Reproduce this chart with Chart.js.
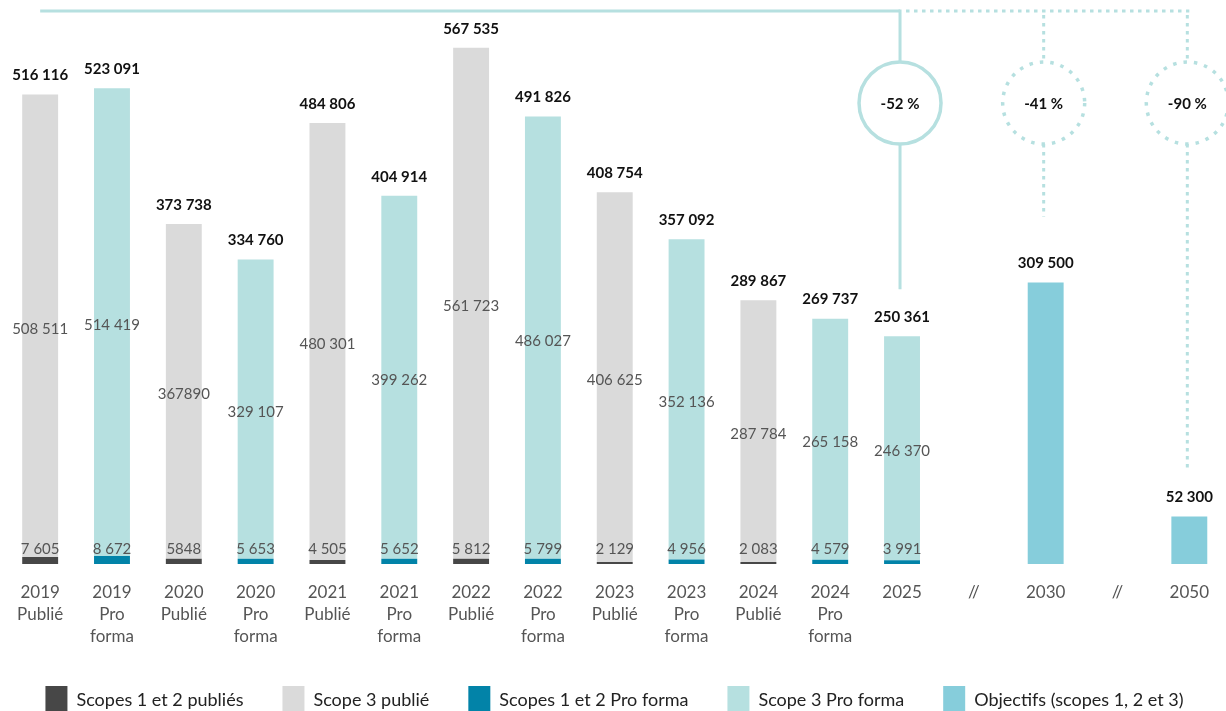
<!DOCTYPE html>
<html><head><meta charset="utf-8">
<script src="https://cdn.jsdelivr.net/npm/chart.js@4/dist/chart.umd.min.js"></script>
<style>html,body{margin:0;padding:0;overflow:hidden;background:#fff}
#wrap{position:relative;width:1226px;height:724px}</style>
</head><body><div id="wrap"><canvas id="c"></canvas></div>
<script>
// ---- data ----
const categories = [
  ['2019','Publié'],['2019','Pro','forma'],['2020','Publié'],['2020','Pro','forma'],
  ['2021','Publié'],['2021','Pro','forma'],['2022','Publié'],['2022','Pro','forma'],
  ['2023','Publié'],['2023','Pro','forma'],['2024','Publié'],['2024','Pro','forma'],
  '2025','//','2030','//','2050'
];
const scope12Publie = [7605,null,5848,null,4505,null,5812,null,2129,null,2083,null,null,null,null,null,null];
const scope3Publie  = [508511,null,367890,null,480301,null,561723,null,406625,null,287784,null,null,null,null,null,null];
const scope12ProForma = [null,8672,null,5653,null,5652,null,5799,null,4956,null,4579,3991,null,null,null,null];
const scope3ProForma  = [null,514419,null,329107,null,399262,null,486027,null,352136,null,265158,246370,null,null,null,null];
const objectifs = [null,null,null,null,null,null,null,null,null,null,null,null,null,null,309500,null,52300];
const unspacedLabels = [367890, 5848]; // printed without thousands separator in the source
const reductionLabels = ['-52 %','-41 %','-90 %'];
const reductionCategories = [12, 14, 16];
const legendLabels = ['Scopes 1 et 2 publiés','Scope 3 publié','Scopes 1 et 2 Pro forma','Scope 3 Pro forma','Objectifs (scopes 1, 2 et 3)'];

const FONT = 'Lato, "Noto Sans", sans-serif';
const fmt = v => unspacedLabels.includes(v) ? String(v) : String(v).replace(/\B(?=(\d{3})+(?!\d))/g, ' ');

const labelPlugin = {
  id: 'valueLabels',
  afterDatasetsDraw(chart) {
    const ctx = chart.ctx;
    ctx.save();
    ctx.textAlign = 'center';
    ctx.textBaseline = 'middle';
    const tops = {};
    chart.data.datasets.forEach((ds, di) => {
      const meta = chart.getDatasetMeta(di);
      meta.data.forEach((el, i) => {
        const v = ds.data[i];
        if (v == null) return;
        if (ds.role === 's12') {
          ctx.font = '15px ' + FONT; ctx.fillStyle = '#555';
          ctx.fillText(fmt(v), el.x, el.base - 15);
        } else if (ds.role === 's3') {
          ctx.font = '15px ' + FONT; ctx.fillStyle = '#555';
          ctx.fillText(fmt(v), el.x, (el.y + el.base) / 2 + 3);
        }
        tops[i] = tops[i] || {sum: 0, y: Infinity, x: el.x};
        tops[i].sum += v;
        tops[i].y = Math.min(tops[i].y, el.y);
      });
    });
    ctx.font = 'bold 15px ' + FONT; ctx.fillStyle = '#111';
    Object.values(tops).forEach(t => ctx.fillText(fmt(t.sum), t.x, t.y - 19));
    ctx.restore();
  }
};

const targetPlugin = {
  id: 'targets',
  afterDatasetsDraw(chart) {
    const ctx = chart.ctx, x = chart.scales.x;
    const top = chart.chartArea.top + 11;
    const cy = chart.chartArea.top + 103, r = 41;
    const endGaps = [47, 66, 47];
    const col = '#b6e0e0';
    ctx.save();
    ctx.strokeStyle = col; ctx.lineWidth = 3;
    const x0 = x.getPixelForValue(0);
    const xs = reductionCategories.map(c => x.getPixelForValue(c) - 2);
    ctx.beginPath(); ctx.moveTo(x0, top); ctx.lineTo(xs[0], top); ctx.stroke();
    ctx.setLineDash([3.5, 4.5]);
    ctx.beginPath(); ctx.moveTo(xs[0] + 6, top); ctx.lineTo(xs[2] + 2, top); ctx.stroke();
    reductionCategories.forEach((c, k) => {
      const cx = xs[k];
      const barTop = Math.min(...chart.data.datasets.map((ds, di) => {
        const el = chart.getDatasetMeta(di).data[c];
        return ds.data[c] == null ? Infinity : el.y;
      }));
      const yEnd = barTop - endGaps[k];
      const dotted = k > 0;
      ctx.setLineDash(dotted ? [3.5, 4.5] : []);
      ctx.lineWidth = 3;
      ctx.beginPath();
      ctx.moveTo(cx, dotted ? top + 4 : top - 1.5); ctx.lineTo(cx, cy - r);
      ctx.moveTo(cx, cy + r); ctx.lineTo(cx, yEnd);
      ctx.stroke();
      ctx.setLineDash(dotted ? [3.5, 7] : []);
      ctx.lineWidth = 3.5;
      ctx.beginPath(); ctx.arc(cx, cy, r, 0, Math.PI * 2); ctx.stroke();
      ctx.setLineDash([]);
      ctx.fillStyle = '#111'; ctx.font = 'bold 15px ' + FONT;
      ctx.textAlign = 'center'; ctx.textBaseline = 'middle';
      ctx.fillText(reductionLabels[k], cx, cy + 1);
    });
    ctx.restore();
  }
};

const mk = (label, data, color, role) => ({label, data, backgroundColor: color, borderWidth: 0, role,
  barPercentage: 0.5, categoryPercentage: 1, skipNull: true});

new Chart(document.getElementById('c'), {
  type: 'bar',
  data: {
    labels: categories,
    datasets: [
      mk(legendLabels[0], scope12Publie, '#474747', 's12'),
      mk(legendLabels[1], scope3Publie, '#dadada', 's3'),
      mk(legendLabels[2], scope12ProForma, '#0283a8', 's12'),
      mk(legendLabels[3], scope3ProForma, '#b6e0e0', 's3'),
      mk(legendLabels[4], objectifs, '#86cddb', 'obj')
    ]
  },
  options: {
    responsive: true, maintainAspectRatio: false, animation: false,
    layout: {padding: {left: 3, right: 0, top: 0, bottom: 0}},
    scales: {
      x: {stacked: true, grid: {display: false, drawTicks: false}, border: {display: false},
          ticks: {color: '#555', font: {family: FONT, size: 17, lineHeight: 1.3}, padding: 17, maxRotation: 0, autoSkip: false},
          afterFit(s) { s.height = 83; }},
      y: {stacked: true, display: false, min: 0, max: 620000}
    },
    plugins: {
      legend: {position: 'bottom',
        labels: {boxWidth: 22, boxHeight: 28, padding: 39, color: '#222', font: {family: FONT, size: 18}}},
      tooltip: {enabled: false}
    }
  },
  plugins: [labelPlugin, targetPlugin]
});
</script></body></html>
